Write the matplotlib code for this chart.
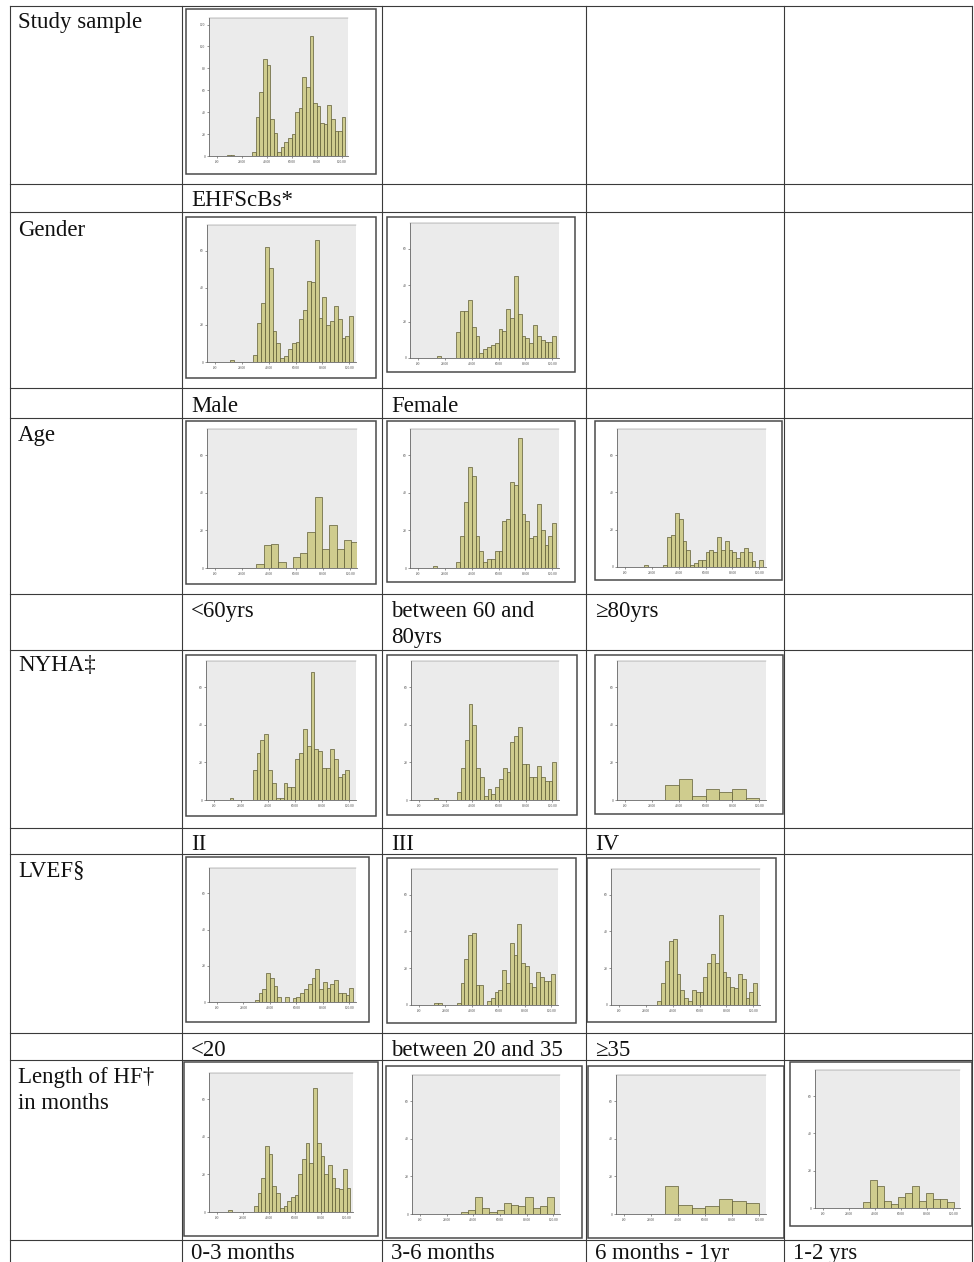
import numpy as np
import matplotlib.pyplot as plt
from matplotlib.patches import Rectangle

plt.rcParams['font.family'] = ['Liberation Serif', 'DejaVu Serif']

W, H = 974, 1262

# counts per histogram bin (narrow bins: 35 bins over 0-100)
study_counts = [0, 0, 0, 1, 1, 0, 0, 0, 0, 0,
                4, 36, 58, 89, 83, 34, 21, 4, 8, 13, 16, 20, 40, 44, 72, 63,
                110, 48, 46, 30, 29, 47, 34, 23, 23, 36]
male_counts = [0, 0, 0, 0, 1, 0, 0, 0, 0, 0,
               4, 21, 32, 62, 51, 17, 10, 2, 3, 7, 10, 11, 23, 28, 44, 43,
               66, 24, 35, 20, 22, 30, 23, 13, 14, 25]
female_counts = [0, 0, 0, 0, 0, 1, 0, 0, 0, 0,
                 14, 26, 26, 32, 17, 12, 3, 5, 6, 7, 8, 16, 15, 27, 22, 45,
                 24, 12, 11, 8, 18, 12, 10, 9, 9, 12]
age_60_80_counts = [0, 0, 0, 0, 1, 0, 0, 0, 0, 0,
                    3, 17, 35, 54, 49, 17, 9, 3, 5, 5, 9, 9, 25, 26, 46, 44,
                    69, 29, 25, 16, 17, 34, 20, 12, 17, 24]
age_ge80_counts = [0, 0, 0, 0, 0, 1, 0, 0, 0, 0,
                   1, 16, 17, 29, 26, 14, 9, 1, 2, 4, 4, 8, 9, 8, 16, 9,
                   14, 9, 8, 5, 8, 10, 8, 3, 0, 4]
nyha2_counts = [0, 0, 0, 0, 1, 0, 0, 0, 0, 0,
                16, 25, 32, 35, 16, 9, 1, 1, 9, 7, 7, 22, 25, 38, 29, 68,
                27, 26, 17, 17, 27, 22, 12, 14, 16, 0]
nyha3_counts = [0, 0, 0, 0, 1, 0, 0, 0, 0, 0,
                4, 17, 32, 51, 40, 17, 12, 2, 6, 3, 7, 11, 17, 15, 31, 34,
                39, 19, 19, 12, 12, 18, 12, 10, 10, 20]
lvef_lt20_counts = [0, 0, 0, 0, 0, 0, 0, 0, 0, 0,
                    1, 5, 7, 16, 13, 9, 3, 0, 3, 0, 2, 3, 5, 7, 10, 13,
                    18, 7, 11, 8, 10, 12, 5, 5, 4, 8]
lvef_20_35_counts = [0, 0, 0, 0, 1, 1, 0, 0, 0, 0,
                     1, 12, 25, 38, 39, 11, 11, 0, 2, 4, 7, 8, 19, 12, 34, 27,
                     44, 23, 21, 12, 10, 18, 15, 13, 13, 17]
lvef_ge35_counts = [0, 0, 0, 0, 0, 0, 0, 0, 0, 0,
                    2, 12, 24, 35, 36, 17, 8, 4, 2, 8, 7, 7, 15, 23, 28, 23,
                    49, 18, 15, 10, 9, 17, 14, 4, 7, 12]
hf_0_3_counts = [0, 0, 0, 1, 0, 0, 0, 0, 0, 0,
                 3, 10, 18, 35, 31, 14, 10, 2, 3, 6, 8, 9, 20, 28, 37, 26,
                 66, 37, 30, 20, 25, 18, 13, 12, 23, 13]

# wide bins
age_lt60_counts = [2, 12, 13, 3, 0, 6, 8, 19, 38, 10, 23, 10, 15, 14]
hf_3_6_counts = [1, 2, 9, 3, 1, 2, 6, 5, 4, 9, 3, 4, 9]
hf_12_24_counts = [3, 15, 12, 4, 2, 6, 8, 12, 4, 8, 5, 5, 3]

# ten-point bins
nyha4_counts = [8, 11, 2, 6, 4, 6, 1]
hf_6_12_counts = [15, 5, 3, 4, 8, 7, 6]

x_ticks = [0, 20, 40, 60, 80, 100]
x_tick_labels = ['.00', '20.00', '40.00', '60.00', '80.00', '100.00']

row_labels = [['Study sample'], ['Gender'], ['Age'], ['NYHA\u2021'],
              ['LVEF\u00a7'], ['Length of HF\u2020', 'in months']]
group_labels = [[['EHFScBs*']],
                [['Male'], ['Female']],
                [['<60yrs'], ['between 60 and', '80yrs'], ['\u226580yrs']],
                [['II'], ['III'], ['IV']],
                [['<20'], ['between 20 and 35'], ['\u226535']],
                [['0-3 months'], ['3-6 months'], ['6 months - 1yr'],
                 ['1-2 yrs']]]

NARROW = (0.0, 100 / 35)
WIDE = (30.5, 5.4)
TEN = (30.0, 10.0)

# counts, bins, ymax, frame box (x0, y0, x1, y1), plot box (l, t, r, b)
panels = [
    (study_counts, NARROW, 126, (186, 9, 376, 174), (209, 18, 348, 156)),
    (male_counts, NARROW, 74, (186, 217, 376, 378), (207, 225, 356, 362)),
    (female_counts, NARROW, 74, (387, 217, 575, 372), (410, 223, 559, 358)),
    (age_lt60_counts, WIDE, 74, (186, 421, 376, 584), (207, 429, 357, 568)),
    (age_60_80_counts, NARROW, 74, (387, 421, 575, 582), (410, 429, 559, 568)),
    (age_ge80_counts, NARROW, 74, (595, 421, 782, 580), (617, 429, 766, 567)),
    (nyha2_counts, NARROW, 74, (186, 655, 376, 816), (206, 661, 356, 800)),
    (nyha3_counts, NARROW, 74, (387, 655, 577, 815), (411, 661, 559, 800)),
    (nyha4_counts, TEN, 74, (595, 655, 783, 814), (617, 661, 766, 800)),
    (lvef_lt20_counts, NARROW, 74, (186, 857, 369, 1022), (209, 868, 356, 1002)),
    (lvef_20_35_counts, NARROW, 74, (387, 858, 576, 1023), (411, 869, 558, 1005)),
    (lvef_ge35_counts, NARROW, 74, (587, 858, 776, 1022), (611, 869, 760, 1005)),
    (hf_0_3_counts, NARROW, 74, (184, 1062, 378, 1236), (209, 1073, 353, 1212)),
    (hf_3_6_counts, WIDE, 74, (386, 1066, 582, 1238), (412, 1075, 560, 1214)),
    (hf_6_12_counts, TEN, 74, (588, 1066, 784, 1238), (616, 1075, 766, 1214)),
    (hf_12_24_counts, WIDE, 74, (790, 1062, 972, 1226), (815, 1070, 960, 1208)),
]

BAR = '#cfcc8e'
BAR_EDGE = '#5e5c34'
PLOT_BG = '#ebebeb'
LINE = '#3a3a3a'
FS = 16.5
LEAD = 26

fig = plt.figure(figsize=(W / 100, H / 100), dpi=100)
bg = fig.add_axes([0, 0, 1, 1])
bg.set_xlim(0, W)
bg.set_ylim(H, 0)
bg.axis('off')

# table grid
col_x = [10, 182, 382, 586, 784, 972]
row_y = [6, 184, 212, 388, 418, 594, 650, 828, 854, 1033, 1060, 1240, 1262]
for y in row_y[:-1]:
    bg.plot([col_x[0], col_x[-1]], [y, y], color=LINE, lw=0.8)
for x in col_x:
    bg.plot([x, x], [row_y[0], H], color=LINE, lw=0.8)


def put_lines(x, y, lines):
    for k, line in enumerate(lines):
        bg.text(x, y + k * LEAD, line, fontsize=FS, va='baseline',
                color='#111111')


# row headers and group labels
head_base = [28, 236, 441, 671, 876, 1083]
label_base = [206, 412, 617, 850, 1056, 1259]
for i, name in enumerate(row_labels):
    put_lines(18, head_base[i], name)
    for j, lab in enumerate(group_labels[i]):
        put_lines(col_x[j + 1] + 9, label_base[i], lab)

for counts, (x0, bw), ymax, frame, box in panels:
    fx0, fy0, fx1, fy1 = frame
    bg.add_patch(Rectangle((fx0, fy0), fx1 - fx0, fy1 - fy0, facecolor='white',
                           edgecolor='#4a4a4a', lw=1.1))
    l, t, r, b = box
    ax = fig.add_axes([l / W, 1 - b / H, (r - l) / W, (b - t) / H])
    ax.set_facecolor(PLOT_BG)
    lefts = x0 + bw * np.arange(len(counts))
    ax.bar(lefts, counts, width=bw, align='edge', color=BAR,
           edgecolor=BAR_EDGE, lw=0.5)
    ax.set_xlim(-6, 105)
    ax.set_ylim(0, ymax)
    ax.set_xticks(x_ticks)
    ax.set_xticklabels(x_tick_labels)
    ax.set_yticks(np.arange(0, ymax, 20))
    ax.tick_params(labelsize=2.6, length=1.5, width=0.4, pad=1.2,
                   colors='#444444')
    ax.spines['right'].set_visible(False)
    for s in ('left', 'bottom', 'top'):
        ax.spines[s].set_color('#666666')
        ax.spines[s].set_linewidth(0.6)
    ax.spines['top'].set_linewidth(0.3)

fig.savefig('out.png', dpi=100)
